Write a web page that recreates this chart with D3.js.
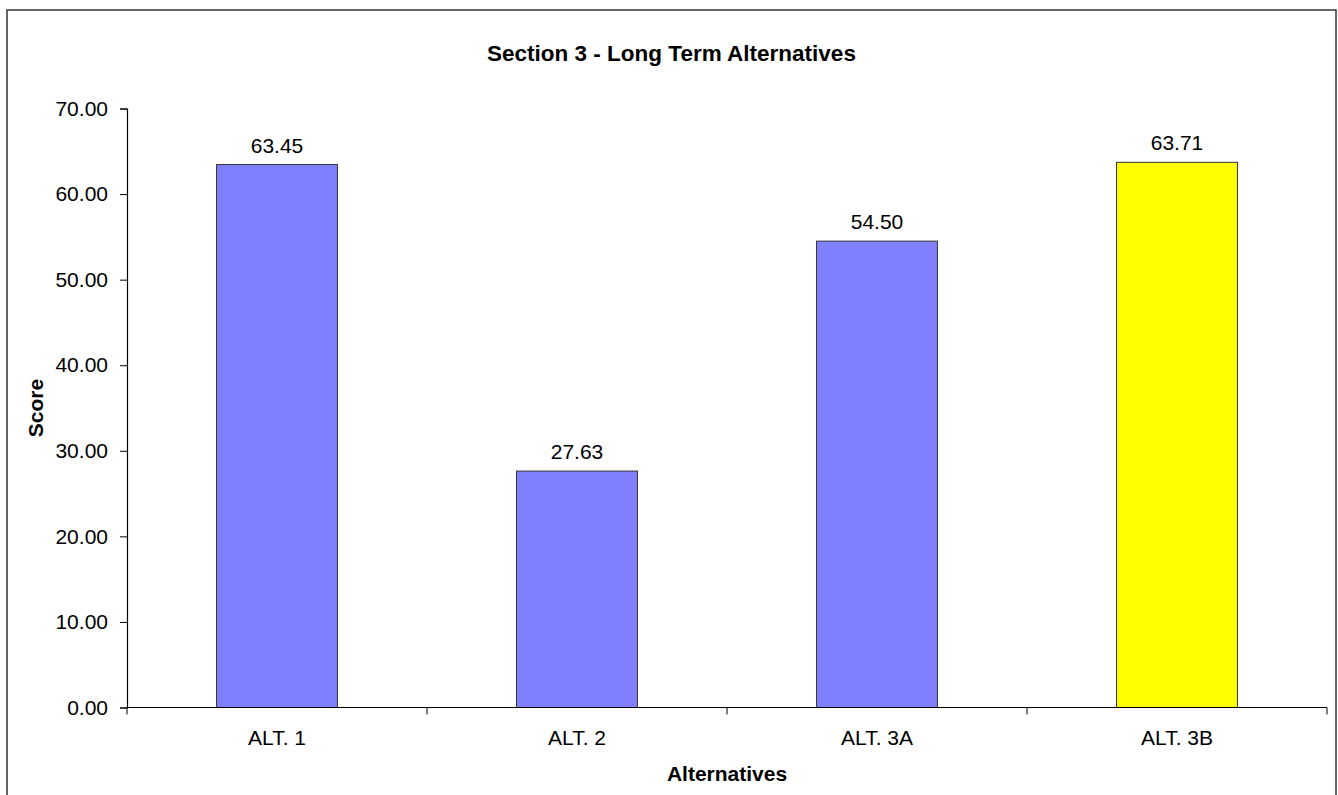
<!DOCTYPE html>
<html>
<head>
<meta charset="utf-8">
<script src="https://cdn.jsdelivr.net/npm/d3@7"></script>
<style>
  html, body { margin: 0; padding: 0; background: #fff; }
  svg { display: block; font-family: Arial, "Liberation Sans", sans-serif; }
</style>
</head>
<body>
<svg id="chart" width="1338" height="795"></svg>
<script>
// Chart data
const categories = ["ALT. 1", "ALT. 2", "ALT. 3A", "ALT. 3B"];
const scores = [63.45, 27.63, 54.50, 63.71];
const barColors = ["#8080FF", "#8080FF", "#8080FF", "#FFFF00"];
const yTicks = [0, 10, 20, 30, 40, 50, 60, 70];
const title = "Section 3 - Long Term Alternatives";
const xTitle = "Alternatives";
const yTitle = "Score";

const svg = d3.select("#chart");

// Outer chart frame
svg.append("rect")
  .attr("x", 7).attr("y", 10)
  .attr("width", 1329).attr("height", 800)
  .attr("fill", "#fff")
  .attr("stroke", "#333").attr("stroke-width", 1.5);

const plot = { left: 127, right: 1327, top: 108.5, bottom: 707.5 };

const x = d3.scaleBand()
  .domain(categories)
  .range([plot.left, plot.right])
  .paddingInner(0.597)
  .paddingOuter(0.2985);

const y = d3.scaleLinear()
  .domain([0, 70])
  .range([plot.bottom, plot.top]);

// Bars
svg.append("g").selectAll("rect")
  .data(categories)
  .join("rect")
  .attr("x", d => x(d))
  .attr("y", (d, i) => y(scores[i]))
  .attr("width", x.bandwidth())
  .attr("height", (d, i) => y(0) - y(scores[i]))
  .attr("fill", (d, i) => barColors[i])
  .attr("stroke", "#333")
  .attr("stroke-width", 1);

// Value labels
svg.append("g").selectAll("text")
  .data(categories)
  .join("text")
  .attr("x", d => x(d) + x.bandwidth() / 2)
  .attr("y", (d, i) => y(scores[i]) - 12)
  .attr("text-anchor", "middle")
  .attr("font-size", 21)
  .attr("fill", "#000")
  .text((d, i) => scores[i].toFixed(2));

// Y axis
const yAxis = svg.append("g")
  .attr("transform", `translate(${plot.left},0)`)
  .call(d3.axisLeft(y).tickValues(yTicks).tickFormat(d3.format(".2f")).tickSize(7).tickPadding(12));
yAxis.select(".domain").attr("stroke", "#000").attr("stroke-width", 1.2);
yAxis.selectAll(".tick line").attr("stroke", "#000");
yAxis.selectAll(".tick text")
  .attr("font-size", 21)
  .attr("font-family", "Arial, 'Liberation Sans', sans-serif")
  .attr("fill", "#000");

// X axis: ticks between categories
const xAxisG = svg.append("g");
xAxisG.append("line")
  .attr("x1", plot.left).attr("x2", plot.right)
  .attr("y1", y(0)).attr("y2", y(0))
  .attr("stroke", "#000").attr("stroke-width", 1.2);
const boundaries = d3.range(categories.length + 1).map(i => plot.left + i * x.step());
xAxisG.selectAll("line.tick")
  .data(boundaries)
  .join("line")
  .attr("class", "tick")
  .attr("x1", d => d).attr("x2", d => d)
  .attr("y1", y(0)).attr("y2", y(0) + 7)
  .attr("stroke", "#000").attr("stroke-width", 1);
xAxisG.selectAll("text")
  .data(categories)
  .join("text")
  .attr("x", d => x(d) + x.bandwidth() / 2)
  .attr("y", 745)
  .attr("text-anchor", "middle")
  .attr("font-size", 21)
  .attr("fill", "#000")
  .text(d => d);

// Titles
svg.append("text")
  .attr("x", (7 + 1336) / 2)
  .attr("y", 61)
  .attr("text-anchor", "middle")
  .attr("font-size", 22.5)
  .attr("font-weight", "bold")
  .text(title);

svg.append("text")
  .attr("x", (plot.left + plot.right) / 2)
  .attr("y", 781)
  .attr("text-anchor", "middle")
  .attr("font-size", 21)
  .attr("font-weight", "bold")
  .text(xTitle);

svg.append("text")
  .attr("transform", `translate(43,${(plot.top + plot.bottom) / 2}) rotate(-90)`)
  .attr("text-anchor", "middle")
  .attr("font-size", 21)
  .attr("font-weight", "bold")
  .text(yTitle);
</script>
</body>
</html>
